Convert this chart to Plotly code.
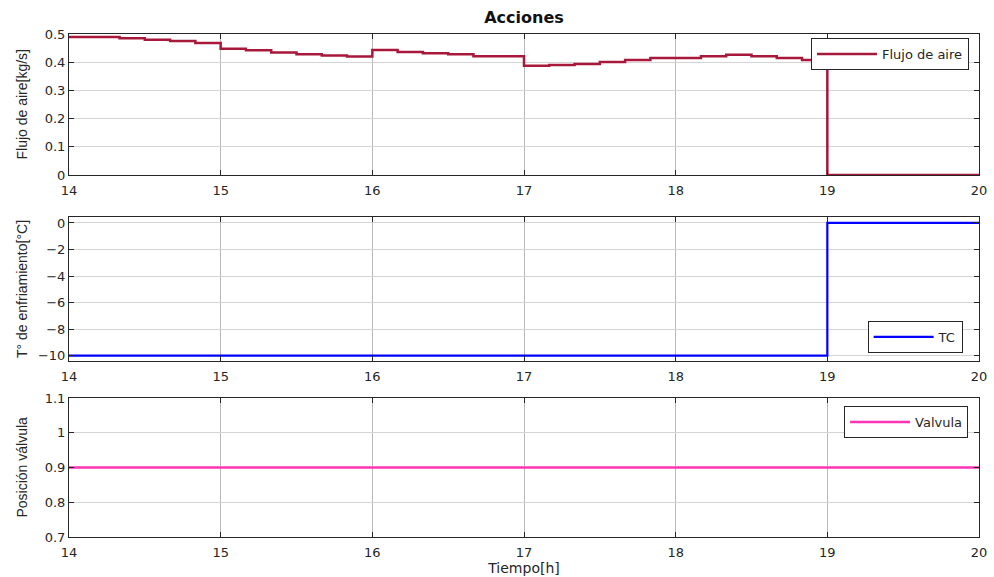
import plotly.graph_objects as go

# ---- data ----
tiempo_h = [14.0, 14.1667, 14.3333, 14.5, 14.6667, 14.8333,
            15.0, 15.1667, 15.3333, 15.5, 15.6667, 15.8333,
            16.0, 16.1667, 16.3333, 16.5, 16.6667, 16.8333,
            17.0, 17.1667, 17.3333, 17.5, 17.6667, 17.8333,
            18.0, 18.1667, 18.3333, 18.5, 18.6667, 18.8333,
            19.0, 19.1667, 19.3333, 19.5, 19.6667, 19.8333, 20.0]

flujo_aire = [0.489, 0.489, 0.485, 0.480, 0.475, 0.468,
              0.448, 0.442, 0.434, 0.428, 0.424, 0.420,
              0.443, 0.436, 0.432, 0.428, 0.421, 0.421,
              0.387, 0.390, 0.394, 0.401, 0.408, 0.415,
              0.415, 0.421, 0.426, 0.421, 0.415, 0.408,
              0.0, 0.0, 0.0, 0.0, 0.0, 0.0, 0.0]

tc = [-10, -10, -10, -10, -10, -10,
      -10, -10, -10, -10, -10, -10,
      -10, -10, -10, -10, -10, -10,
      -10, -10, -10, -10, -10, -10,
      -10, -10, -10, -10, -10, -10,
      0, 0, 0, 0, 0, 0, 0]

valvula = [0.9, 0.9, 0.9, 0.9, 0.9, 0.9,
           0.9, 0.9, 0.9, 0.9, 0.9, 0.9,
           0.9, 0.9, 0.9, 0.9, 0.9, 0.9,
           0.9, 0.9, 0.9, 0.9, 0.9, 0.9,
           0.9, 0.9, 0.9, 0.9, 0.9, 0.9,
           0.9, 0.9, 0.9, 0.9, 0.9, 0.9, 0.9]

x_ticks = [14, 15, 16, 17, 18, 19, 20]
y1_ticks = [0, 0.1, 0.2, 0.3, 0.4, 0.5]
y2_ticks = [-10, -8, -6, -4, -2, 0]
y3_ticks = [0.7, 0.8, 0.9, 1.0, 1.1]

# ---- figure ----
INK = '#262626'
TICKFONT = dict(family='DejaVu Sans', size=13, color=INK)

fig = go.Figure()
fig.add_trace(go.Scatter(x=tiempo_h, y=flujo_aire, mode='lines', line_shape='hv',
                         line=dict(color='#A8183A', width=2.5), name='Flujo de aire',
                         xaxis='x', yaxis='y', legend='legend'))
fig.add_trace(go.Scatter(x=tiempo_h, y=tc, mode='lines', line_shape='hv',
                         line=dict(color='#0000FF', width=2.2), name='TC',
                         xaxis='x2', yaxis='y2', legend='legend2'))
fig.add_trace(go.Scatter(x=tiempo_h, y=valvula, mode='lines', line_shape='hv',
                         line=dict(color='#FF33B4', width=2.5), name='Valvula',
                         xaxis='x3', yaxis='y3', legend='legend3'))

def ax(**kw):
    d = dict(showline=True, linecolor=INK, linewidth=1, mirror='ticks',
             ticks='inside', ticklen=5, tickcolor=INK, showgrid=True,
             zeroline=False, tickfont=TICKFONT, automargin=False)
    d.update(kw)
    return d

dom = {'y': [0.7197, 1.0], 'y2': [0.3499, 0.6362], 'y3': [0.0, 0.2763]}

fig.update_layout(
    template='none',
    width=994, height=577,
    margin=dict(l=69, r=15, t=34, b=40),
    paper_bgcolor='white', plot_bgcolor='white',
    showlegend=True,
    title=dict(text='<b>Acciones</b>', x=0.5, xanchor='center', xref='paper',
               y=1 - 17 / 577, yanchor='middle', yref='container',
               font=dict(family='DejaVu Sans', size=16, color='#111111')),
    xaxis=ax(domain=[0, 1], range=[14, 20], tickvals=x_ticks, anchor='y',
             gridcolor='#b8b8b8', ticklabelstandoff=3),
    xaxis2=ax(domain=[0, 1], range=[14, 20], tickvals=x_ticks, anchor='y2',
              gridcolor='#b8b8b8', ticklabelstandoff=3),
    xaxis3=ax(domain=[0, 1], range=[14, 20], tickvals=x_ticks, anchor='y3',
              gridcolor='#b8b8b8', ticklabelstandoff=3,
              title=dict(text='Tiempo[h]', standoff=0,
                         font=dict(family='DejaVu Sans', size=14, color=INK))),
    yaxis=ax(domain=dom['y'], range=[0, 0.5], tickvals=y1_ticks, anchor='x',
             gridcolor='#d4d4d4'),
    yaxis2=ax(domain=dom['y2'], range=[-10.4, 0.45], tickvals=y2_ticks, anchor='x2',
              gridcolor='#d4d4d4'),
    yaxis3=ax(domain=dom['y3'], range=[0.7, 1.1], tickvals=y3_ticks, anchor='x3',
              gridcolor='#d4d4d4'),
)

leg_common = dict(bgcolor='white', bordercolor=INK, borderwidth=1,
                  font=dict(family='DejaVu Sans', size=13, color=INK),
                  itemwidth=60, tracegroupgap=0, xref='paper', yref='paper')
fig.update_layout(
    legend=dict(x=0.989, xanchor='right', y=0.992, yanchor='top', **leg_common),
    legend2=dict(x=0.982, xanchor='right', y=0.366, yanchor='bottom', **leg_common),
    legend3=dict(x=0.988, xanchor='right', y=0.2604, yanchor='top', **leg_common),
)

ytitles = [('y', 'Flujo de aire[kg/s]'), ('y2', 'T° de enfriamiento[°C]'),
           ('y3', 'Posición válvula')]
for ref, txt in ytitles:
    fig.add_annotation(text=txt, textangle=-90, xref='paper', x=(22 - 69) / 910,
                       xanchor='center', yref=ref + ' domain', y=0.5, yanchor='middle',
                       showarrow=False,
                       font=dict(family='Liberation Sans', size=14, color=INK))

fig.write_html('out.html')
